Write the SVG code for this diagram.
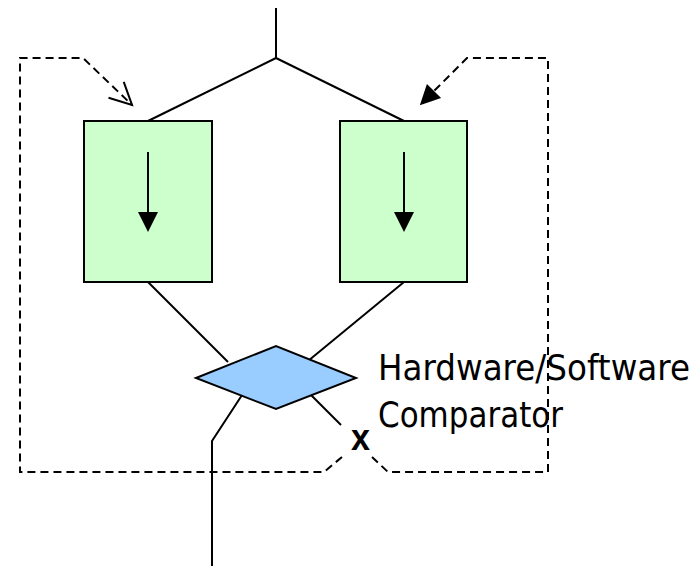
<svg xmlns="http://www.w3.org/2000/svg" width="700" height="566" viewBox="0 0 700 566">
  <style>
    .ln { fill: none; stroke: #000; stroke-width: 2; }
    .dash { fill: none; stroke: #000; stroke-width: 2; stroke-dasharray: 8 5; }
    .box { fill: #ccffcc; stroke: #000; stroke-width: 2; }
    .cmp { fill: #99ccff; stroke: #000; stroke-width: 2; }
    .lbl { font-family: "DejaVu Sans", "Liberation Sans", sans-serif; font-size: 35px; fill: #000; }
    .cross { font-family: "Liberation Sans", Arial, sans-serif; font-size: 37px; font-weight: bold; fill: #000; }
  </style>
  <defs>
    <marker id="solidHead" markerUnits="userSpaceOnUse" markerWidth="24" markerHeight="24" viewBox="0 -12 24 24" refX="0" refY="0" orient="auto" overflow="visible">
      <path d="M20,0 L0,-10 L0,10 Z" fill="#000"/>
    </marker>
    <marker id="openHead" markerUnits="userSpaceOnUse" markerWidth="24" markerHeight="24" viewBox="-24 -12 24 24" refX="0" refY="0" orient="auto" overflow="visible">
      <path d="M-22,-11 L0,0 L-22,11" fill="none" stroke="#000" stroke-width="2"/>
    </marker>
  </defs>

  <!-- connectors -->
  <g id="connectors">
    <!-- input fan-out -->
    <path class="ln" d="M276,8 V58"/>
    <path class="ln" d="M276,58 L148,121"/>
    <path class="ln" d="M276,58 L404,121"/>
    <!-- units into comparator -->
    <path class="ln" d="M148,282 L228,362"/>
    <path class="ln" d="M404,282 L308,361"/>
    <!-- comparator outputs -->
    <path class="ln" d="M244,392 L212,441 V566"/>
    <path class="ln" d="M308,392 L341,425"/>
    <!-- feedback loops -->
    <path class="dash" d="M342,457 L324,472 H20 V58 H83 L132,105" marker-end="url(#openHead)"/>
    <path class="dash" d="M372,457 L388,472 H548 V58 H467 L434,91" marker-end="url(#solidHead)"/>
  </g>

  <g id="unitA">
    <rect class="box" x="84" y="121" width="128" height="161"/>
    <path class="ln" d="M148,152 V212" marker-end="url(#solidHead)"/>
  </g>

  <g id="unitB">
    <rect class="box" x="340" y="121" width="127" height="161"/>
    <path class="ln" d="M404,152 V212" marker-end="url(#solidHead)"/>
  </g>

  <g id="comparator">
    <polygon class="cmp" points="196,378 276,346 356,378 276,409"/>
    <text class="lbl" x="378" y="380" textLength="312" lengthAdjust="spacingAndGlyphs">Hardware/Software</text>
    <text class="lbl" x="378" y="427" textLength="185" lengthAdjust="spacingAndGlyphs">Comparator</text>
  </g>

  <g id="fault">
    <text class="cross" x="351" y="450" textLength="19" lengthAdjust="spacingAndGlyphs">x</text>
  </g>
</svg>
